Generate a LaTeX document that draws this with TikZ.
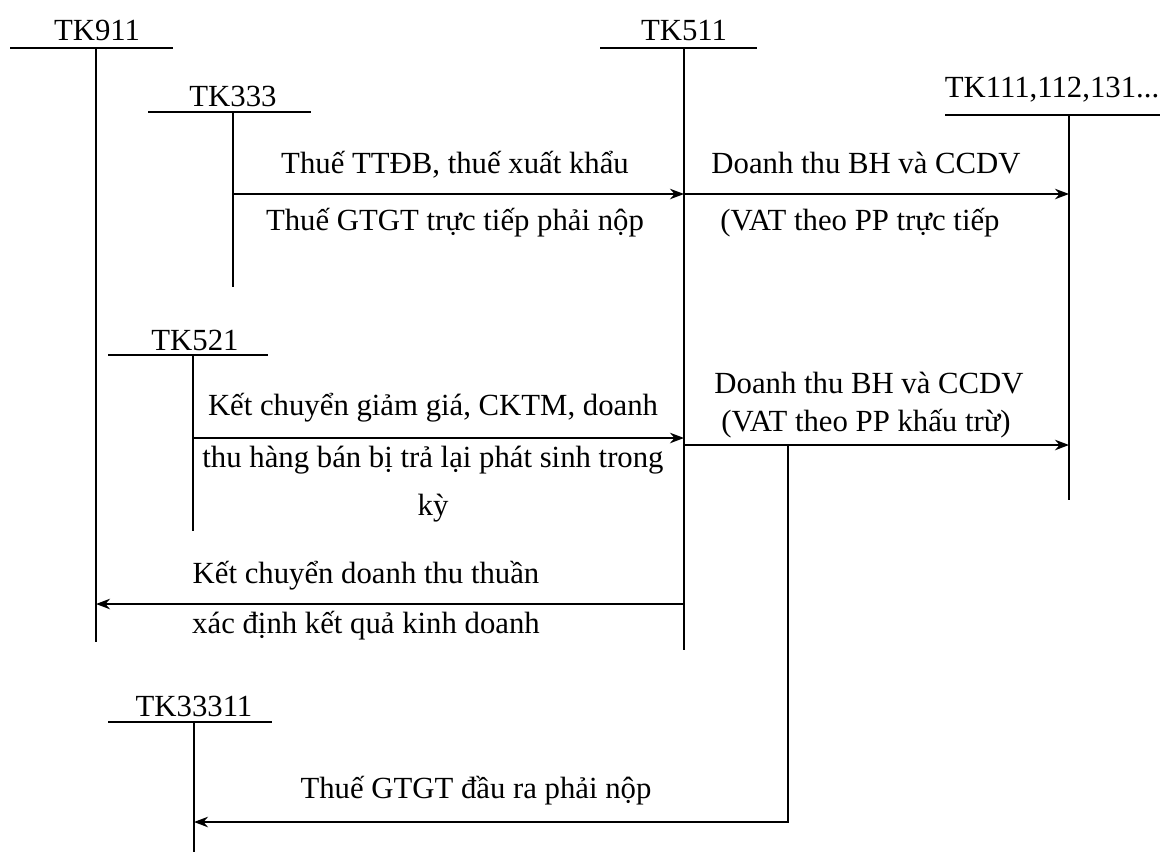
\documentclass[tikz,border=0pt]{standalone}
\usepackage{fontspec}
\setmainfont{Liberation Serif}
\usetikzlibrary{arrows.meta}
\begin{document}
\begin{tikzpicture}[x=0.02cm,y=-0.02cm,line width=0.8pt,
  >={Stealth[length=8pt,width=6pt]},
  lbl/.style={anchor=base,inner sep=0pt,font=\fontsize{17.5}{20}\selectfont},
  acc/.style={line width=0.8pt}]
\useasboundingbox (0,0) rectangle (1165,852);
% account titles
\node[lbl] (t911) at (97,40) {TK911};
\node[lbl] (t333) at (233,106) {TK333};
\node[lbl] (t511) at (684,40) {TK511};
\node[lbl] (t111) at (1052,97) {TK111,112,131...};
\node[lbl] (t521) at (195,350) {TK521};
\node[lbl] (t33311) at (194,716) {TK33311};
% T-account coordinates
\coordinate (a911L) at (10,48);   \coordinate (a911R) at (173,48);
\coordinate (a911T) at (96,48);   \coordinate (a911B) at (96,642);
\coordinate (a333L) at (148,112); \coordinate (a333R) at (311,112);
\coordinate (a333T) at (233,112); \coordinate (a333B) at (233,287);
\coordinate (a511L) at (600,48);  \coordinate (a511R) at (757,48);
\coordinate (a511T) at (684,48);  \coordinate (a511B) at (684,650);
\coordinate (a111L) at (945,115); \coordinate (a111R) at (1160,115);
\coordinate (a111T) at (1069,115);\coordinate (a111B) at (1069,500);
\coordinate (a521L) at (108,355); \coordinate (a521R) at (268,355);
\coordinate (a521T) at (193,355); \coordinate (a521B) at (193,531);
\coordinate (a3L) at (108,722);   \coordinate (a3R) at (272,722);
\coordinate (a3T) at (194,722);   \coordinate (a3B) at (194,852);
\foreach \n in {911,333,511,111,521,3}{
  \draw[acc] (a\n L) -- (a\n R);
  \draw[acc] (a\n T) -- (a\n B);
}
% connector endpoints
\coordinate (p1s) at (233,194); \coordinate (p1e) at (684,194);
\coordinate (p2s) at (684,194); \coordinate (p2e) at (1069,194);
\coordinate (p3s) at (193,438); \coordinate (p3e) at (684,438);
\coordinate (p4s) at (684,445); \coordinate (p4e) at (1069,445);
\coordinate (p5s) at (684,604); \coordinate (p5e) at (96,604);
\coordinate (p6s) at (788,445); \coordinate (p6c) at (788,822); \coordinate (p6e) at (194,822);
\draw[->] (p1s) -- (p1e);
\draw[->] (p2s) -- (p2e);
\draw[->] (p3s) -- (p3e);
\draw[->] (p4s) -- (p4e);
\draw[->] (p5s) -- (p5e);
\draw[->] (p6s) -- (p6c) -- (p6e);
% labels
\node[lbl] (l1a) at (455,173) {Thuế TTĐB, thuế xuất khẩu};
\node[lbl] (l1b) at (455,230) {Thuế GTGT trực tiếp phải nộp};
\node[lbl] (l2a) at (866,173) {Doanh thu BH và CCDV};
\node[lbl] (l2b) at (860,230) {(VAT theo PP trực tiếp};
\node[lbl] (l3a) at (433,415) {Kết chuyển giảm giá, CKTM, doanh};
\node[lbl] (l3b) at (433,467) {thu hàng bán bị trả lại phát sinh trong};
\node[lbl] (l3c) at (433,515) {kỳ};
\node[lbl] (l4a) at (869,393) {Doanh thu BH và CCDV};
\node[lbl] (l4b) at (866,431) {(VAT theo PP khấu trừ)};
\node[lbl] (l5a) at (366,583) {Kết chuyển doanh thu thuần};
\node[lbl] (l5b) at (366,633) {xác định kết quả kinh doanh};
\node[lbl] (l6) at (476,798) {Thuế GTGT đầu ra phải nộp};
\end{tikzpicture}
\end{document}
